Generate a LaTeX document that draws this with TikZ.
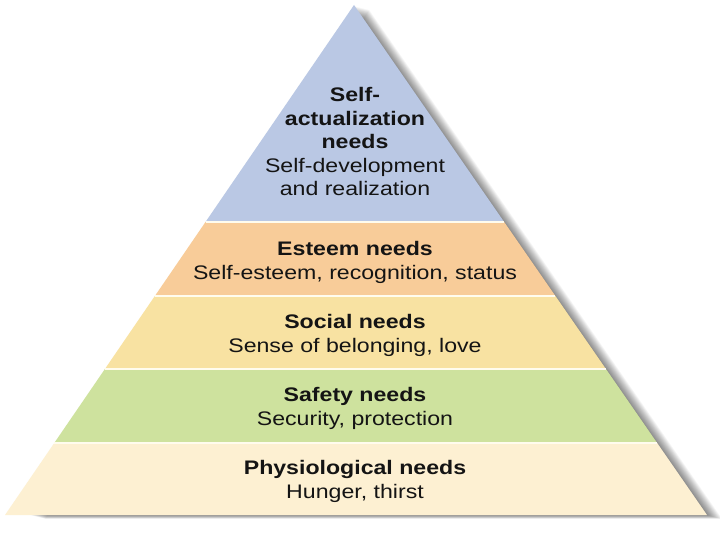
\documentclass[tikz,border=0pt]{standalone}
\usepackage{fontspec}
\newfontfamily\pyr{Liberation Sans}[FakeStretch=1.18]
\usetikzlibrary{calc}
\definecolor{cblue}{RGB}{186,200,228}
\definecolor{corange}{RGB}{248,204,153}
\definecolor{cyellow}{RGB}{248,226,162}
\definecolor{cgreen}{RGB}{206,226,158}
\definecolor{cbeige}{RGB}{253,240,210}
\definecolor{csep}{RGB}{255,252,238}
\definecolor{ctext}{RGB}{20,20,20}
\tikzset{
  hd/.style={font=\pyr\bfseries\fontsize{19.6}{23}\selectfont, text=ctext, anchor=base, inner sep=0pt},
  tx/.style={font=\pyr\fontsize{19.6}{23}\selectfont, text=ctext, anchor=base, inner sep=0pt},
  sepline/.style={draw=csep, line width=2.2pt},
}
\begin{document}
\begin{tikzpicture}[x=1pt,y=-1pt]
\useasboundingbox (0,0) rectangle (720,540);
\fill[white] (0,0) rectangle (720,540);
\coordinate (A) at (354,5);
\coordinate (BL) at (5,515);
\coordinate (BR) at (707,515);
% shadow
\foreach \k in {1,...,15}{
  \fill[black,opacity=0.035] ($(A)+(\k,0.25*\k+1)$) -- ($(BR)+(\k,0.25*\k)$) -- ($(BL)+(\k+25,0.25*\k)$) -- cycle;
}
% band corners
\coordinate (L1) at ($(A)!0.4255!(BL)$);
\coordinate (R1) at ($(A)!0.4255!(BR)$);
\coordinate (L2) at ($(A)!0.5706!(BL)$);
\coordinate (R2) at ($(A)!0.5706!(BR)$);
\coordinate (L3) at ($(A)!0.7137!(BL)$);
\coordinate (R3) at ($(A)!0.7137!(BR)$);
\coordinate (L4) at ($(A)!0.8588!(BL)$);
\coordinate (R4) at ($(A)!0.8588!(BR)$);
% bands
\fill[cblue] (A) -- (R1) -- (L1) -- cycle;
\fill[corange] (L1) -- (R1) -- (R2) -- (L2) -- cycle;
\fill[cyellow] (L2) -- (R2) -- (R3) -- (L3) -- cycle;
\fill[cgreen] (L3) -- (R3) -- (R4) -- (L4) -- cycle;
\fill[cbeige] (L4) -- (R4) -- (BR) -- (BL) -- cycle;
% separators
\draw[sepline] (L1) -- (R1);
\draw[sepline] (L2) -- (R2);
\draw[sepline] (L3) -- (R3);
\draw[sepline] (L4) -- (R4);
% texts
\node[hd] (sa1) at (355,102) {Self-};
\node[hd] (sa2) at (355,126) {actualization};
\node[hd] (sa3) at (355,149) {needs};
\node[tx] (sa4) at (355,173) {Self-development};
\node[tx] (sa5) at (355,196) {and realization};
\node[hd] (es1) at (355,255) {Esteem needs};
\node[tx] (es2) at (355,279) {Self-esteem, recognition, status};
\node[hd] (so1) at (355,328) {Social needs};
\node[tx] (so2) at (355,352) {Sense of belonging, love};
\node[hd] (sf1) at (355,401) {Safety needs};
\node[tx] (sf2) at (355,425) {Security, protection};
\node[hd] (ph1) at (355,474) {Physiological needs};
\node[tx] (ph2) at (355,498) {Hunger, thirst};
\end{tikzpicture}
\end{document}
